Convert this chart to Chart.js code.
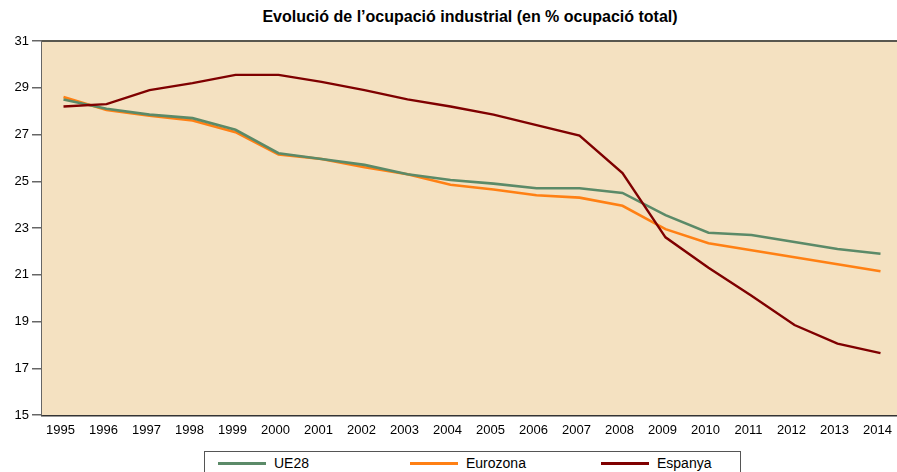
<!DOCTYPE html>
<html lang="ca">
<head>
  <meta charset="UTF-8" />
  <title>Evolució de l'ocupació industrial</title>
  <script src="https://cdn.jsdelivr.net/npm/chart.js"></script>
  <style>
    body {
      margin: 0;
      width: 897px;
      height: 472px;
      overflow: hidden;
      background: #fff;
      font-family: 'Liberation Sans', Arial, sans-serif;
      position: relative;
    }
    .title {
      position: absolute;
      top: 8px;
      left: 0;
      width: 940px;
      text-align: center;
      font-weight: bold;
      font-size: 16px;
      color: #000;
    }
    .chart-box {
      position: absolute;
      top: 0;
      left: 0;
      width: 904px;
      height: 445px;
    }
    .legend {
      position: absolute;
      left: 204px;
      top: 451px;
      width: 537px;
      height: 30px;
      border: 1px solid #555;
      box-sizing: border-box;
    }
    .legend-item {
      position: absolute;
      top: 3px;
      font-size: 14px;
      color: #000;
      display: flex;
      align-items: center;
    }
    .legend-item span.swatch {
      display: inline-block;
      width: 48px;
      height: 3px;
      margin-right: 8px;
    }
  </style>
</head>
<body>
  <div class="title">Evolució de l’ocupació industrial (en % ocupació total)</div>
  <div class="chart-box"><canvas id="chart"></canvas></div>
  <div class="legend" id="legend"></div>

  <script>
    const years = ['1995', '1996', '1997', '1998', '1999', '2000', '2001', '2002', '2003', '2004',
                   '2005', '2006', '2007', '2008', '2009', '2010', '2011', '2012', '2013', '2014'];

    const ue28 = [28.5, 28.1, 27.85, 27.7, 27.2, 26.2, 25.95, 25.7, 25.3, 25.05,
                  24.9, 24.7, 24.7, 24.5, 23.55, 22.8, 22.7, 22.4, 22.1, 21.9];
    const eurozona = [28.6, 28.05, 27.8, 27.6, 27.1, 26.15, 25.95, 25.6, 25.3, 24.85,
                      24.65, 24.4, 24.3, 23.95, 22.95, 22.35, 22.05, 21.75, 21.45, 21.15];
    const espanya = [28.2, 28.3, 28.9, 29.2, 29.55, 29.55, 29.25, 28.9, 28.5, 28.2,
                     27.85, 27.4, 26.95, 25.35, 22.6, 21.3, 20.1, 18.85, 18.05, 17.65];

    const seriesNames = ['UE28', 'Eurozona', 'Espanya'];
    const seriesColors = ['#5b8a68', '#ff8014', '#7f0000'];

    // background + top border of the plot area
    const plotFrame = {
      id: 'plotFrame',
      beforeDatasetsDraw(chart) {
        const { ctx, chartArea } = chart;
        ctx.save();
        ctx.fillStyle = '#f4e1c1';
        ctx.fillRect(chartArea.left, chartArea.top, chartArea.right - chartArea.left, chartArea.bottom - chartArea.top);
        ctx.strokeStyle = '#58574f';
        ctx.lineWidth = 2;
        ctx.beginPath();
        ctx.moveTo(chartArea.left, chartArea.top);
        ctx.lineTo(chartArea.right, chartArea.top);
        ctx.stroke();
        ctx.restore();
      }
    };

    new Chart(document.getElementById('chart'), {
      type: 'line',
      data: {
        labels: years,
        datasets: [
          { label: seriesNames[0], data: ue28, borderColor: seriesColors[0], borderWidth: 2.6, order: 1 },
          { label: seriesNames[1], data: eurozona, borderColor: seriesColors[1], borderWidth: 2.6, order: 2 },
          { label: seriesNames[2], data: espanya, borderColor: seriesColors[2], borderWidth: 2.4, order: 0 }
        ]
      },
      options: {
        responsive: true,
        maintainAspectRatio: false,
        animation: false,
        layout: { padding: { top: 41, right: 2, left: 0, bottom: 0 } },
        elements: {
          point: { radius: 0 },
          line: { tension: 0, fill: false }
        },
        plugins: {
          legend: { display: false },
          title: { display: false },
          tooltip: { enabled: false }
        },
        scales: {
          x: {
            offset: true,
            grid: { display: false, drawTicks: false },
            border: { display: true, color: '#333', width: 2.5 },
            ticks: {
              color: '#000',
              font: { family: "'Liberation Sans', Arial", size: 13 },
              padding: 8,
              labelOffset: -3,
              maxRotation: 0,
              autoSkip: false
            },
            afterFit(axis) { axis.height = 30; }
          },
          y: {
            min: 15,
            max: 31,
            grid: { drawOnChartArea: false, color: '#666', tickLength: 10, lineWidth: 1.5 },
            border: { display: true, color: '#666', width: 1.5 },
            ticks: {
              stepSize: 2,
              color: '#000',
              font: { family: "'Liberation Sans', Arial", size: 13 },
              padding: 3
            },
            afterFit(axis) { axis.width = 42; }
          }
        }
      },
      plugins: [plotFrame]
    });

    // legend built from the series arrays
    const legend = document.getElementById('legend');
    const itemLefts = [13, 205, 396];
    seriesNames.forEach((name, i) => {
      const item = document.createElement('div');
      item.className = 'legend-item';
      item.style.left = itemLefts[i] + 'px';
      item.innerHTML = '<span class="swatch" style="background:' + seriesColors[i] + '"></span>' + name;
      legend.appendChild(item);
    });
  </script>
</body>
</html>
